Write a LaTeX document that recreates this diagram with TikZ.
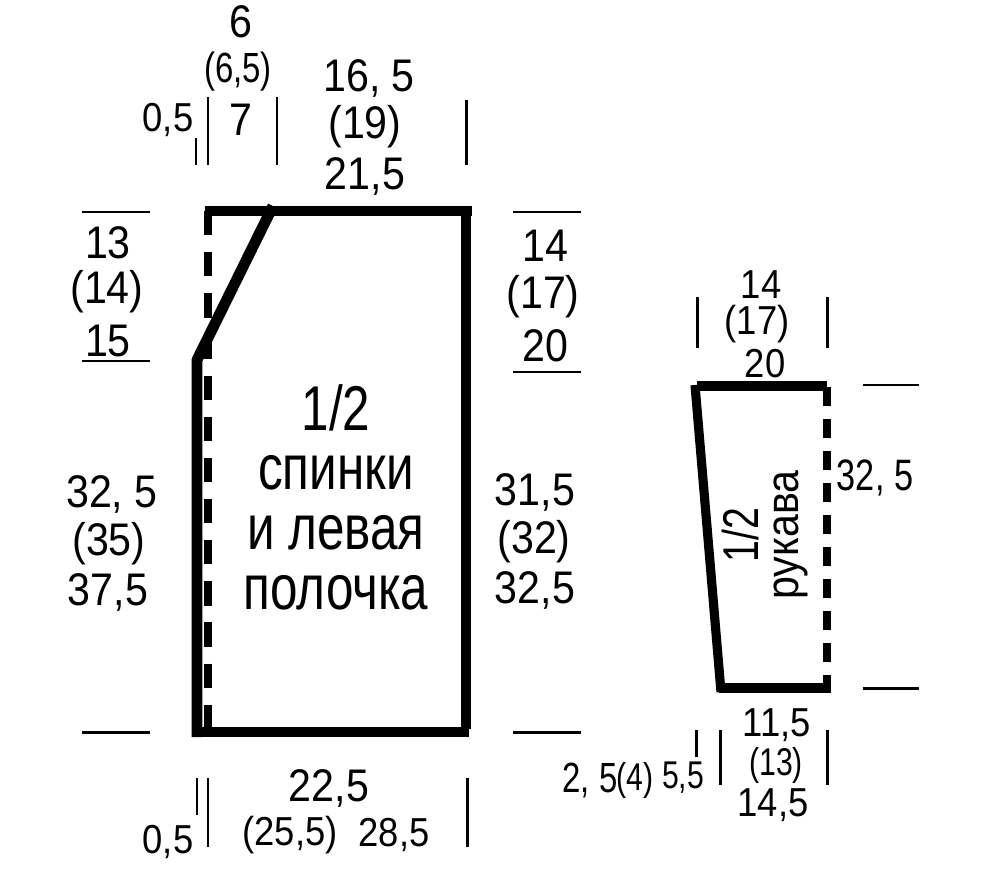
\documentclass[tikz,border=0pt]{standalone}
\usepackage{fontspec}
\setmainfont[FakeStretch=0.9]{Liberation Sans}
\newfontfamily\narrowfont[FakeStretch=0.78]{Liberation Sans}
\usepackage{tikz}
\tikzset{
  bigtext/.style={font=\fontsize{13}{15}\selectfont, inner sep=0pt},
  midtext/.style={font=\fontsize{11.5}{13}\selectfont, inner sep=0pt},
  smalltext/.style={font=\narrowfont\fontsize{11}{13}\selectfont, inner sep=0pt},
  titletext/.style={font=\narrowfont\fontsize{18}{20}\selectfont, inner sep=0pt},
  ruleline/.style={line width=0.85pt, black},
  bodyline/.style={line width=3.1pt, black},
  sleeveline/.style={line width=2.6pt, black},
  foldline/.style={line width=2pt, black, dash pattern=on 6.9pt off 4.8pt},
  cufffold/.style={line width=2pt, black, dash pattern=on 5.4pt off 3.7pt}
}
\begin{document}
\begin{tikzpicture}[x=0.01cm, y=-0.01cm]
    \useasboundingbox (0,0) rectangle (1000,891);
    % half back and left front
    \draw [foldline] (208,211) -- (208,732);                 % draw the fold
    \draw [bodyline] (205,211) -- (472,211);                 % draw the top edge
    \draw [bodyline, line join=bevel] (197,737) -- (197,360) -- (273,206); % draw the neck
    \draw [bodyline] (466,206) -- (466,729);                 % draw the right edge
    \draw [bodyline] (197,732) -- (469,732);                 % draw the bottom edge
    % half sleeve
    \draw [cufffold] (827,387) -- (827,693);                 % draw the fold
    \draw [sleeveline] (697,386) -- (827,386);               % draw the top edge
    \draw [sleeveline] (695,385) -- (721,692);               % draw the slanted edge
    \draw [sleeveline] (719,688) -- (828,688);               % draw the bottom edge
    % ticks of the body
    \draw [ruleline] (208,97) -- (208,165);
    \draw [ruleline] (277,97) -- (277,165);
    \draw [ruleline] (196,138) -- (196,165);
    \draw [ruleline] (466,100) -- (466,165);
    \draw [ruleline] (82,212) -- (150,212);
    \draw [ruleline] (82,361) -- (150,361);
    \draw [ruleline] (82,732) -- (150,732);
    \draw [ruleline] (513,212) -- (581,212);
    \draw [ruleline] (513,372) -- (581,372);
    \draw [ruleline] (513,732) -- (581,732);
    \draw [ruleline] (197,778) -- (197,815);
    \draw [ruleline] (208,778) -- (208,847);
    \draw [ruleline] (467,778) -- (467,847);
    % ticks of the sleeve
    \draw [ruleline] (697,297) -- (697,348);
    \draw [ruleline] (827,297) -- (827,348);
    \draw [ruleline] (863,385) -- (919,385);
    \draw [ruleline] (863,688) -- (919,688);
    \draw [ruleline] (696,730) -- (696,757);
    \draw [ruleline] (720,730) -- (720,785);
    \draw [ruleline] (827,730) -- (827,785);
    % top labels
    \node [bigtext] (neckA) at (241,22) {6};
    \node [smalltext, font=\narrowfont\fontsize{12}{14}\selectfont] (neckB) at (238,72) {(6,5)};
    \node [bigtext] (neckC) at (241,120) {7};
    \node [midtext] (stepTop) at (168,120) {0,5};
    \node [bigtext] (topA) at (369,78) {16, 5};
    \node [bigtext] (topB) at (365,127) {(19)};
    \node [bigtext] (topC) at (365,176) {21,5};
    % left labels
    \node [bigtext] (armA) at (108,243) {13};
    \node [bigtext] (armB) at (107,292) {(14)};
    \node [bigtext] (armC) at (108,341) {15};
    \node [bigtext] (sideA) at (112,494) {32, 5};
    \node [bigtext] (sideB) at (109,544) {(35)};
    \node [bigtext] (sideC) at (108,592) {37,5};
    % right labels
    \node [bigtext] (shA) at (545,246) {14};
    \node [bigtext] (shB) at (543,297) {(17)};
    \node [bigtext] (shC) at (545,346) {20};
    \node [bigtext] (lenA) at (535,492) {31,5};
    \node [bigtext] (lenB) at (534,542) {(32)};
    \node [bigtext] (lenC) at (535,590) {32,5};
    % title of the body
    \node [titletext] (bodyA) at (336,408) {1/2};
    \node [titletext] (bodyB) at (336,473) {спинки};
    \node [titletext] (bodyC) at (336,533) {и левая};
    \node [titletext] (bodyD) at (336,593) {полочка};
    % bottom labels
    \node [bigtext] (hemA) at (329,788) {22,5};
    \node [midtext] (hemB) at (290,835) {(25,5)};
    \node [midtext] (hemC) at (394,835) {28,5};
    \node [midtext] (stepBot) at (168,842) {0,5};
    % sleeve labels
    \node [midtext] (slA) at (761,285) {14};
    \node [midtext] (slB) at (757,324) {(17)};
    \node [midtext] (slC) at (765,364) {20};
    \node [midtext, font=\narrowfont\fontsize{12.5}{14}\selectfont] (slLen) at (875,478) {32, 5};
    \node [titletext, font=\narrowfont\fontsize{14.3}{16}\selectfont, rotate=90] (slTitleA) at (741,535) {1/2};
    \node [bigtext, rotate=90] (slTitleB) at (791,535) {рукава};
    \node [midtext] (cuffA) at (777,725) {11,5};
    \node [smalltext] (cuffB) at (776,765) {(13)};
    \node [midtext] (cuffC) at (773,805) {14,5};
    \node [smalltext, font=\narrowfont\fontsize{12}{14}\selectfont] (gapA) at (590,780) {2, 5};
    \node [smalltext] (gapB) at (635,780) {(4)};
    \node [smalltext] (gapC) at (683,778) {5,5};
\end{tikzpicture}
\end{document}
